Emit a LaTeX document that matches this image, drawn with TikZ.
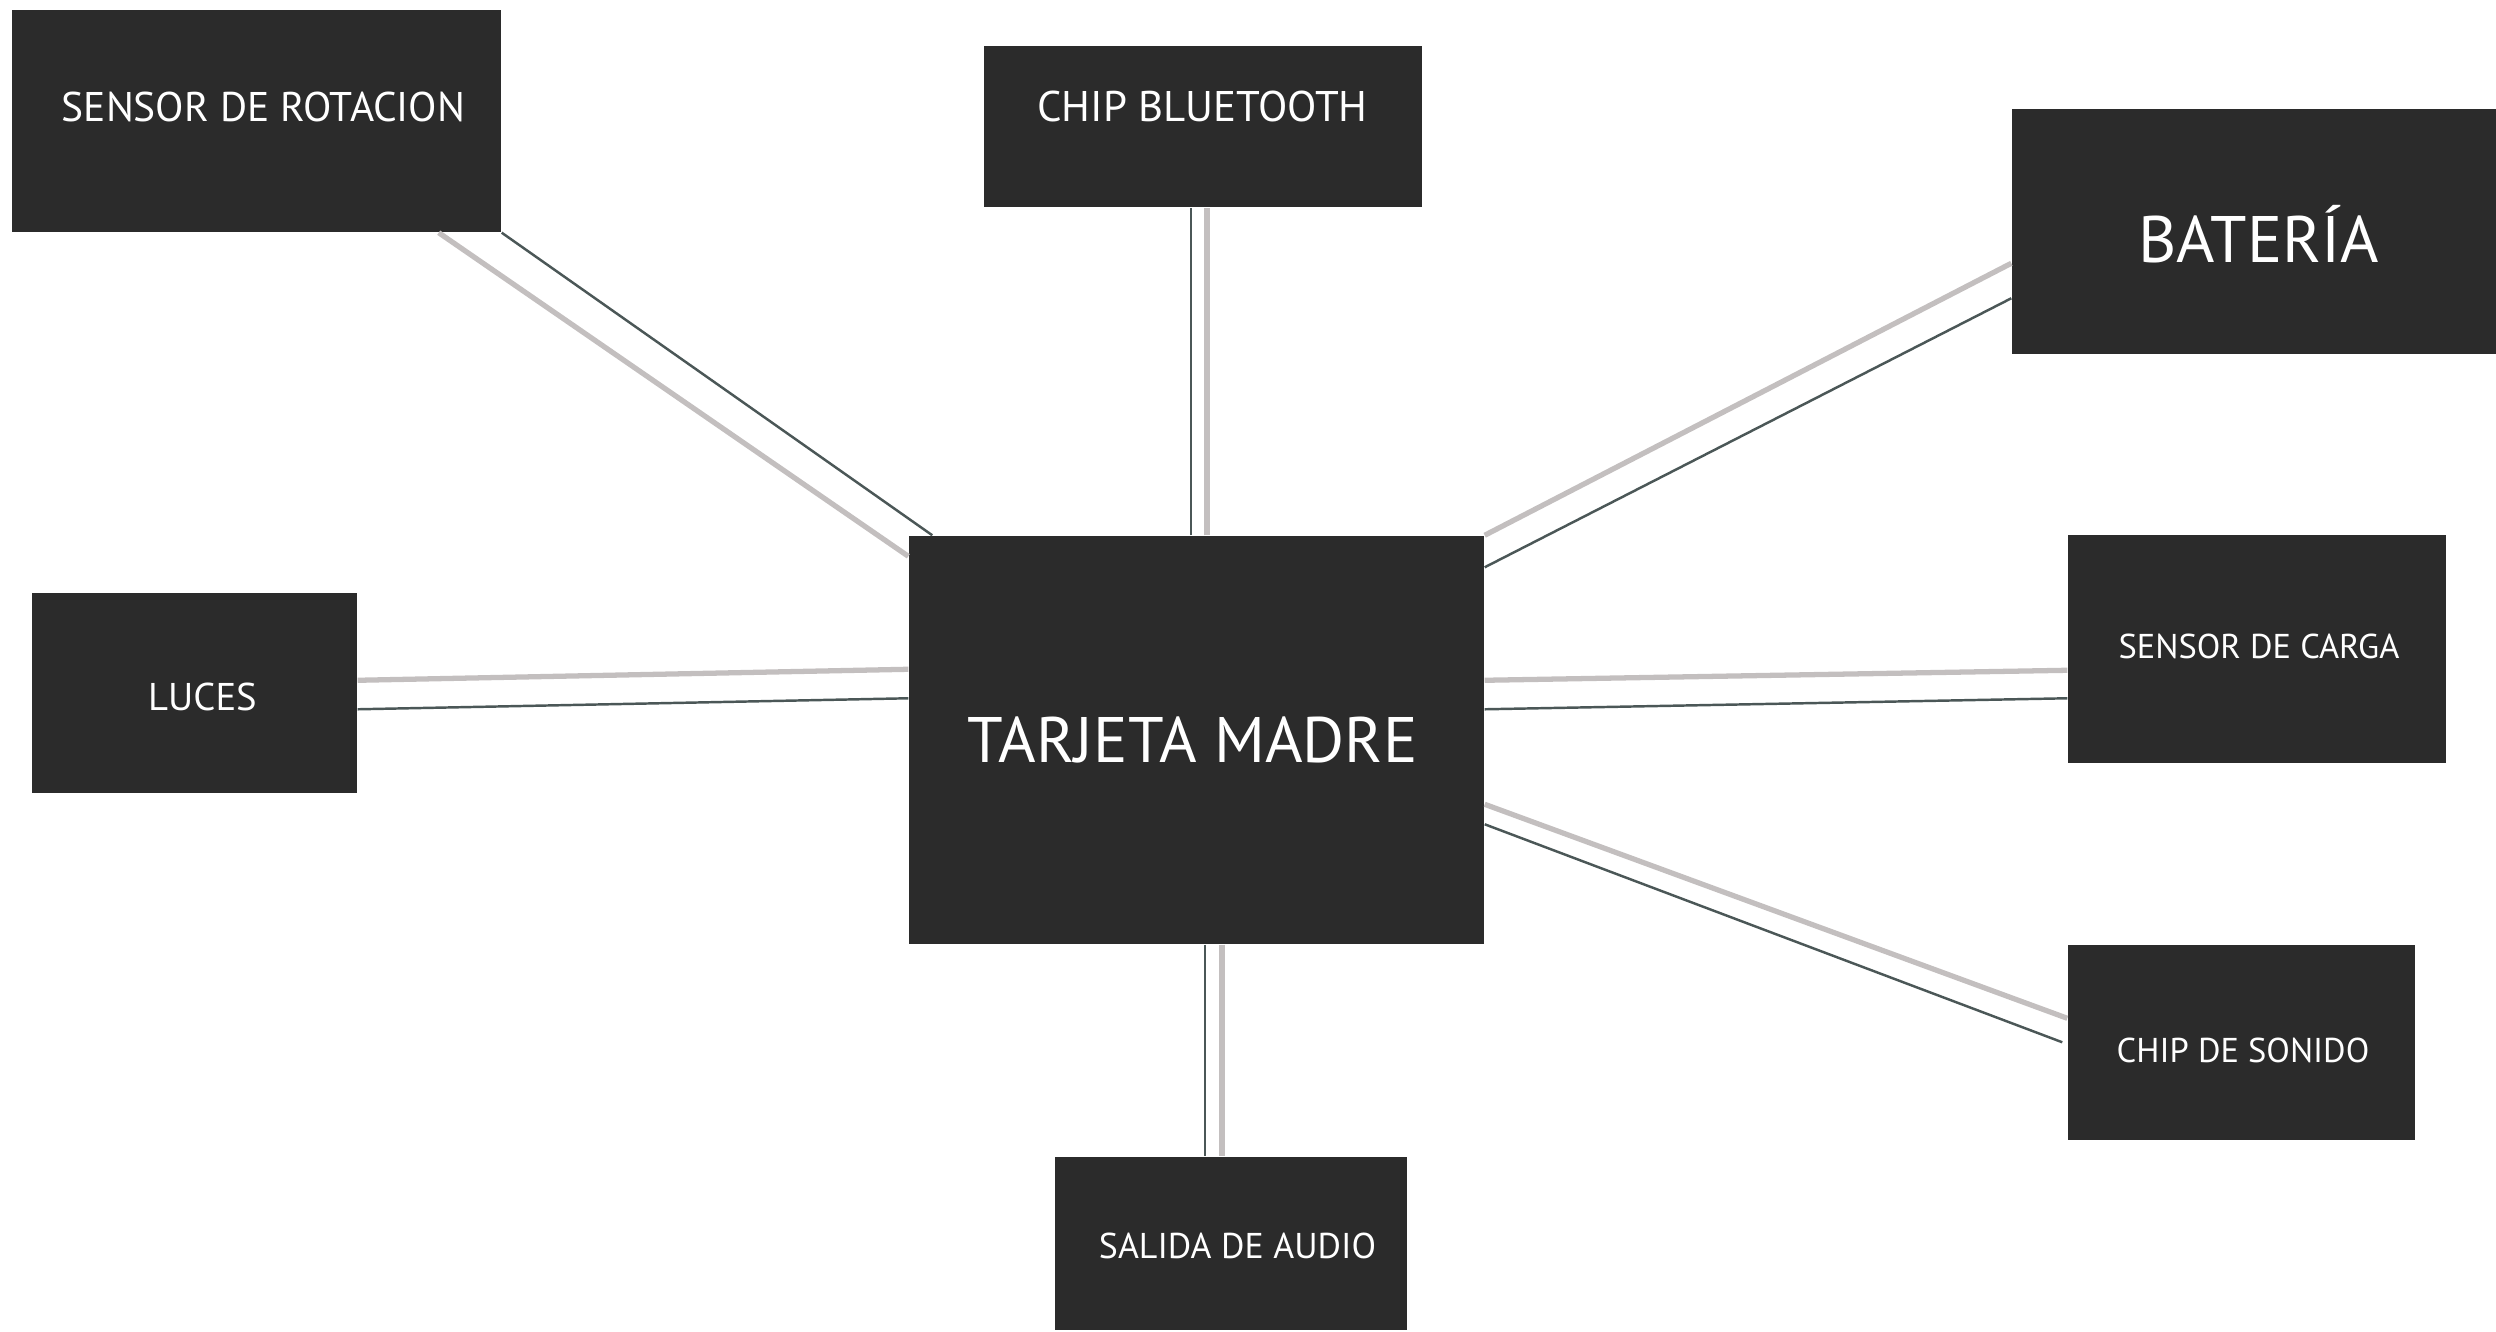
\documentclass[tikz,border=0pt]{standalone}
\usepackage{fontspec}
\setmainfont{PT Sans}
\usetikzlibrary{calc}
\definecolor{caja}{HTML}{2B2B2B}
\definecolor{cable}{HTML}{4B5757}
\definecolor{funda}{HTML}{C3BFBF}
\newcommand{\tam}[1]{\fontsize{#1}{#1}\selectfont}

\begin{document}
\begin{tikzpicture}[
    modulo/.style={fill=caja, inner sep=0pt},
    rotulo/.style={text=white, inner sep=0pt, text depth=0pt},
    hilo/.style={draw=cable, line width=0.7pt},
    vaina/.style={draw=funda, line width=1.5pt}]
            \useasboundingbox (0,0) rectangle (24.96,-13.32);
            % cajas
            \node[modulo, minimum width=5.75cm, minimum height=4.08cm] (madre) at (11.965,-7.40) {};
            \node[modulo, minimum width=4.89cm, minimum height=2.22cm] (rot) at (2.565,-1.21) {};
            \node[modulo, minimum width=4.38cm, minimum height=1.61cm] (bt) at (12.03,-1.265) {};
            \node[modulo, minimum width=4.84cm, minimum height=2.45cm] (bat) at (22.54,-2.315) {};
            \node[modulo, minimum width=3.25cm, minimum height=2.00cm] (luces) at (1.945,-6.93) {};
            \node[modulo, minimum width=3.78cm, minimum height=2.28cm] (carga) at (22.57,-6.49) {};
            \node[modulo, minimum width=3.47cm, minimum height=1.95cm] (sonido) at (22.415,-10.425) {};
            \node[modulo, minimum width=3.52cm, minimum height=1.73cm] (audio) at (12.31,-12.435) {};
            % textos
            \node[rotulo, font=\tam{18.3}, text height=0.45cm] (madre-t) at (11.925,-7.40) {TARJETA MADRE};
            \node[rotulo, font=\tam{11.8}, text height=0.29cm] (rot-t) at (2.635,-1.07) {SENSOR DE ROTACION};
            \node[rotulo, font=\tam{12.2}, text height=0.30cm] (bt-t) at (12.025,-1.07) {CHIP BLUETOOTH};
            \node[rotulo, font=\tam{18.7}, text height=0.46cm] (bat-t) at (22.585,-2.40) {BATERÍA};
            \node[rotulo, font=\tam{11}, text height=0.27cm] (luces-t) at (2.025,-6.97) {LUCES};
            \node[rotulo, font=\tam{9.8}, text height=0.24cm] (carga-t) at (22.59,-6.47) {SENSOR DE CARGA};
            \node[rotulo, font=\tam{9.8}, text height=0.24cm] (sonido-t) at (22.43,-10.51) {CHIP DE SONIDO};
            \node[rotulo, font=\tam{10.2}, text height=0.25cm] (audio-t) at (12.375,-12.46) {SALIDA DE AUDIO};
            % conexiones
            \draw[vaina] ([xshift=-6.3mm]rot.south east) -- ([yshift=-2.1mm]madre.north west);
            \draw[hilo] (rot.south east) -- ([xshift=2.4mm]madre.north west);
            \draw[vaina] ([xshift=1.05mm]madre.north) -- ([xshift=1.05mm]madre.north |- bt.south);
            \draw[hilo] ([xshift=-0.55mm]madre.north) -- ([xshift=-0.55mm]madre.north |- bt.south);
            \draw[vaina] (madre.north east) -- ([yshift=-15.5mm]bat.north west);
            \draw[hilo] ([yshift=-3.2mm]madre.north east) -- ([yshift=-19mm]bat.north west);
            \draw[vaina] ([yshift=-8.8mm]luces.north east) -- ([yshift=-13.4mm]madre.north west);
            \draw[hilo] ([yshift=-11.7mm]luces.north east) -- ([yshift=-16.3mm]madre.north west);
            \draw[vaina] ([yshift=-14.5mm]madre.north east) -- ([yshift=-13.6mm]carga.north west);
            \draw[hilo] ([yshift=-17.4mm]madre.north east) -- ([yshift=-16.4mm]carga.north west);
            \draw[vaina] ([yshift=-26.9mm]madre.north east) -- ([yshift=-7.4mm]sonido.north west);
            \draw[hilo] ([yshift=-28.9mm]madre.north east) -- ([xshift=-0.5mm, yshift=-9.8mm]sonido.north west);
            \draw[hilo] ([xshift=0.85mm]madre.south) -- ([xshift=0.85mm]madre.south |- audio.north);
            \draw[vaina] ([xshift=2.55mm]madre.south) -- ([xshift=2.55mm]madre.south |- audio.north);
        \end{tikzpicture}
\end{document}
